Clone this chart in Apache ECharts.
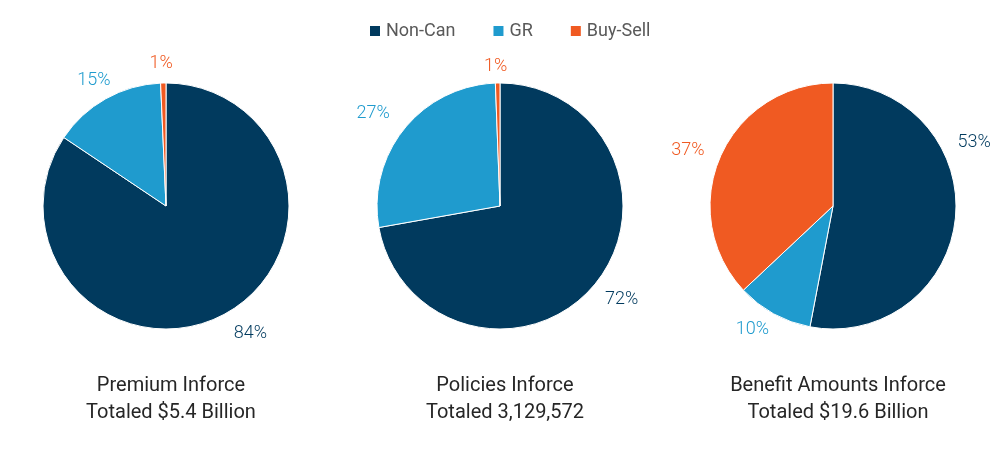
<!DOCTYPE html>
<html>
<head>
<meta charset="utf-8">
<script src="https://cdn.jsdelivr.net/npm/echarts@6/dist/echarts.min.js"></script>
<style>
html,body{margin:0;padding:0;background:#fff;}
#c{width:1000px;height:460px;}
</style>
</head>
<body>
<div id="c"></div>
<script>
const categories = ['Non-Can', 'GR', 'Buy-Sell'];
const premiumValues = [84.4, 14.9, 0.7];
const policyValues = [72.2, 27.2, 0.6];
const benefitValues = [53.0, 10.0, 37.0];
const pieTitles = [
  'Premium Inforce\nTotaled $5.4 Billion',
  'Policies Inforce\nTotaled 3,129,572',
  'Benefit Amounts Inforce\nTotaled $19.6 Billion'
];
const colors = ['#013A5E', '#1F9BCE', '#F05A22'];
const FONT = 'Roboto, "Open Sans", sans-serif';

const centersX = [166, 500, 833];
const labelLines = [
  [[21, 0], [21, -15], [20, -10]],
  [[23, -7], [25, -5], [17, -10]],
  [[2, 0], [18, -4], [17, 0]]
];

function makeData(values, si) {
  return categories.map((name, i) => ({
    name: name,
    value: values[i],
    itemStyle: { color: colors[i] },
    label: { color: colors[i] },
    labelLine: { show: false, length: labelLines[si][i][0], length2: labelLines[si][i][1] }
  }));
}

const allValues = [premiumValues, policyValues, benefitValues];

const series = allValues.map((vals, si) => ({
  type: 'pie',
  center: [centersX[si], 206],
  radius: 123,
  startAngle: 90,
  clockwise: true,
  avoidLabelOverlap: false,
  animation: false,
  itemStyle: { borderColor: '#ffffff', borderWidth: 1 },
  label: {
    show: true,
    position: 'outside',
    formatter: p => Math.round(p.value) + '%',
    fontFamily: FONT,
    fontSize: 18,
    fontWeight: 300,
    distanceToLabelLine: 0
  },
  labelLayout: (si === 2) ? (p => (p.dataIndex === 0 ? { dy: -75 } : {})) : undefined,
  emphasis: { disabled: true },
  data: makeData(vals, si)
}));

const titles = pieTitles.map((t, i) => ({
  text: t,
  left: centersX[i],
  top: 367,
  textAlign: 'center',
  textStyle: {
    fontFamily: FONT,
    fontSize: 20,
    fontWeight: 400,
    color: '#262626',
    lineHeight: 27
  }
}));

const chart = echarts.init(document.getElementById('c'), null, { renderer: 'canvas' });
chart.setOption({
  backgroundColor: '#ffffff',
  color: colors,
  title: titles,
  legend: {
    data: categories,
    top: 17,
    left: 363,
    icon: 'rect',
    itemWidth: 12,
    itemHeight: 12,
    itemGap: 36,
    textStyle: { fontFamily: FONT, fontSize: 18, color: '#595959' }
  },
  series: series
});
</script>
</body>
</html>
